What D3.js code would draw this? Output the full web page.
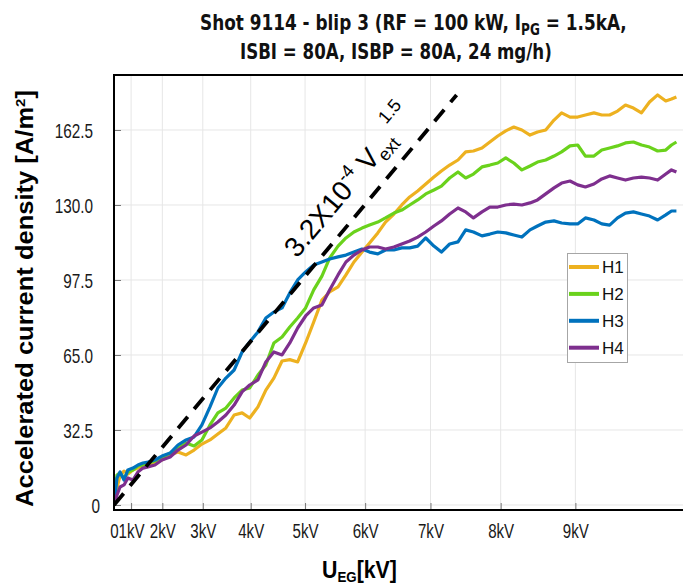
<!DOCTYPE html>
<html><head><meta charset="utf-8">
<script src="https://cdn.jsdelivr.net/npm/d3@7"></script>
<style>body{margin:0;background:#fff} svg{display:block}</style>
</head><body>
<svg id="c" width="683" height="588"></svg>
<script>
// ---- data ----
const voltage = [0,0.31,0.50,0.70,0.87,1.07,1.25,1.42,1.58,1.79,1.99,
 2.21,2.41,2.61,2.80,2.98,3.16,3.33,3.50,3.67,3.83,3.98,
 4.14,4.29,4.44,4.59,4.73,4.87,5.01,5.15,5.29,5.42,
 5.56,5.69,5.82,5.95,6.07,6.20,6.32,6.45,6.57,6.69,
 6.81,6.93,7.05,7.16,7.28,7.40,7.51,7.62,7.74,7.85,
 7.96,8.07,8.18,8.29,8.40,8.50,8.61,8.72,8.82,8.93,
 9.03,9.13,9.24,9.34,9.44,9.54,9.64,9.74,9.84,9.94,
 10.04,10.14,10.21,10.27];
const h1 = [0,7.4,12.6,14.7,13.4,15.2,16.0,16.9,17.3,18.6,19.5,
 21.7,23.0,21.7,23.8,26.4,28.2,30.8,33.4,39.0,39.9,37.7,
 42.5,49.8,55.0,62.4,63.0,62.0,70.2,79.3,88.8,92.3,
 94.5,99.7,105.3,109.6,113.5,117.9,122.6,126.1,130.0,133.5,
 136.1,139.1,142.1,144.7,147.3,149.5,153.0,153.4,154.7,157.3,
 159.9,162.1,163.8,162.5,160.3,161.6,162.5,166.8,169.9,168.1,
 168.1,169.0,169.9,169.0,169.0,170.7,173.3,172.0,169.9,174.6,
 177.7,175.1,175.9,176.8];
const h2 = [0,13.0,13.9,11.7,14.3,15.2,16.9,17.3,18.2,19.1,20.4,
 22.5,24.7,26.9,25.6,28.2,34.7,39.9,42.0,46.4,49.8,50.7,
 56.3,60.7,70.2,72.8,77.1,81.0,85.4,93.2,99.2,107.0,
 112.2,115.7,118.3,120.0,121.3,122.6,124.4,126.5,127.8,130.0,
 132.2,134.8,136.5,138.2,141.7,144.3,141.7,143.4,146.5,147.3,
 148.2,150.4,148.2,145.2,146.9,148.6,149.5,151.2,153.0,155.6,
 156.0,151.2,151.2,153.8,154.7,155.6,156.9,157.3,156.0,155.1,
 153.4,153.8,156.0,157.3];
const h3 = [0,11.7,14.3,10.8,15.2,16.0,17.3,18.2,18.6,19.5,21.2,
 22.5,26.0,28.2,29.5,34.7,42.5,50.7,55.0,58.5,66.3,70.6,
 75.0,81.0,83.6,85.4,91.9,97.5,101.0,104.0,105.3,106.6,
 107.5,108.3,109.6,110.9,109.6,108.8,110.5,110.5,111.4,111.4,
 112.2,115.7,112.2,109.6,113.1,114.0,119.2,118.3,116.6,117.4,
 118.3,117.9,117.0,116.1,119.2,120.9,122.6,123.1,122.2,121.8,
 121.8,124.4,123.5,121.8,121.3,124.4,126.5,127.0,126.1,125.2,
 123.5,125.7,127.4,127.4];
const h4 = [0,4.3,7.8,8.7,11.7,10.8,14.3,16.0,16.5,17.3,19.5,
 20.8,23.8,26.0,29.9,31.6,33.4,36.0,39.0,43.3,49.0,52.0,
 54.2,62.0,66.3,65.0,70.2,76.7,81.9,85.4,86.7,93.2,
 99.7,105.3,108.3,110.5,111.8,111.8,110.9,111.8,113.1,114.4,
 116.1,118.3,120.9,123.1,126.1,128.7,127.0,124.4,127.0,129.1,
 129.1,130.0,130.4,130.0,130.9,132.2,134.8,137.4,139.5,140.4,
 138.7,137.8,139.1,141.3,142.6,141.7,140.8,141.7,142.1,141.7,
 140.8,143.4,145.2,144.3];
const seriesNames = ["H1","H2","H3","H4"];
const seriesColors = ["#EDB120","#6AD21C","#0072BD","#7E2F8E"];
const fitV = [0, 7.38];
const fitJ = [0, 177.7];
const xTickValues = [0,1,2,3,4,5,6,7,8,9];
const xTickLabels = ["0","1kV","2kV","3kV","4kV","5kV","6kV","7kV","8kV","9kV"];
const yTickValues = [0,32.5,65,97.5,130,162.5];
const yTickLabels = ["0","32.5","65.0","97.5","130.0","162.5"];

// ---- layout ----
const L = 114, R = 683, T = 75, B = 510;
const svg = d3.select("#c");
const x = d3.scalePow().exponent(1.5).domain([0, 10.35]).range([L, R]);
const y = d3.scaleLinear().domain([-2.17, 186.33]).range([B, T]);
const SANS = "'Liberation Sans', Arial, sans-serif";

function squeeze(sel, targetW, ax) {
  const w = sel.node().getBBox().width;
  const s = targetW / w;
  sel.attr("transform", `translate(${ax},0) scale(${s},1) translate(${-ax},0)`);
}

// grid
const grid = svg.append("g").attr("stroke","#e6e6e6").attr("stroke-width",1);
grid.selectAll(".gy").data(yTickValues).join("line")
  .attr("x1",L).attr("x2",R).attr("y1",d=>y(d)).attr("y2",d=>y(d));
grid.selectAll(".gx").data(xTickValues.filter(d=>d>0)).join("line")
  .attr("y1",T).attr("y2",B).attr("x1",d=>x(d)).attr("x2",d=>x(d));

// axes
const SX = 0.73;
const gY = svg.append("g").attr("transform",`translate(${L},0)`)
  .call(d3.axisLeft(y).tickValues(yTickValues).tickFormat((d,i)=>yTickLabels[i]).tickSizeInner(-7).tickSizeOuter(0));
gY.select(".domain").remove();
gY.attr("font-size",21).attr("font-family",SANS);
gY.selectAll("line").attr("stroke","#777");
gY.selectAll("text").attr("fill","#1a1a1a").attr("dy","0.36em")
  .attr("x", d => (d===0 ? -14 : -21)/SX).attr("transform",`scale(${SX},1)`);

const gX = svg.append("g").attr("transform",`translate(0,${B})`)
  .call(d3.axisBottom(x).tickValues(xTickValues).tickFormat((d,i)=>xTickLabels[i]).tickSizeInner(-7).tickSizeOuter(0));
gX.select(".domain").remove();
gX.attr("font-size",21).attr("font-family",SANS);
gX.selectAll("line").attr("stroke","#777");
gX.selectAll("text").attr("fill","#1a1a1a").attr("dy",0).attr("y",28.5)
  .attr("x", 0).attr("transform","scale(0.72,1)");

// clip
svg.append("clipPath").attr("id","plotclip").append("rect")
  .attr("x",L).attr("y",T).attr("width",R-L).attr("height",B-T);

// series
const allSeries = [h1,h2,h3,h4];
const line = d3.line().x(d=>x(d[0])).y(d=>y(d[1]));
const gl = svg.append("g").attr("clip-path","url(#plotclip)");
allSeries.forEach((s,i)=>{
  gl.append("path").datum(voltage.map((v,k)=>[v,s[k]]))
    .attr("d",line).attr("fill","none").attr("stroke",seriesColors[i])
    .attr("stroke-width",3.2).attr("stroke-linejoin","round");
});
// fit line
gl.append("path").datum(fitV.map((v,k)=>[v,fitJ[k]]))
  .attr("d",d3.line().x(d=>x(d[0])).y(d=>y(d[1])))
  .attr("fill","none").attr("stroke","#000").attr("stroke-width",3.8)
  .attr("stroke-dasharray","15,10");

// fit label
const fl = svg.append("text").attr("font-family",SANS).attr("font-size",28).attr("fill","#000")
  .attr("transform","translate(297,259) rotate(-50)");
fl.append("tspan").text("3.2X10");
fl.append("tspan").attr("font-size",18).attr("dy",-12).text("-4");
fl.append("tspan").attr("dy",12).text(" V");
fl.append("tspan").attr("font-size",18).attr("dy",6).text("ext");
fl.append("tspan").attr("font-size",18).attr("dy",-24).attr("dx",5).text("1.5");

// frame
const fr = svg.append("g").attr("stroke","#000").attr("stroke-width",2);
fr.append("line").attr("x1",L).attr("x2",L).attr("y1",T).attr("y2",B+1);
fr.append("line").attr("x1",L-1).attr("x2",R).attr("y1",T).attr("y2",T);
fr.append("line").attr("x1",L-1).attr("x2",R).attr("y1",B).attr("y2",B);

// legend
const lg = svg.append("g");
lg.append("rect").attr("x",567.5).attr("y",253.5).attr("width",60).attr("height",109)
  .attr("fill","#fff").attr("stroke","#a6a6a6").attr("stroke-width",1);
seriesNames.forEach((n,i)=>{
  const yy = 267 + i*26.9;
  lg.append("line").attr("x1",569).attr("x2",599).attr("y1",yy).attr("y2",yy)
    .attr("stroke",seriesColors[i]).attr("stroke-width",4);
  lg.append("text").attr("x",602).attr("y",yy+6).attr("font-family",SANS)
    .attr("font-size",17).attr("fill","#111").text(n);
});

// title
const TF = "'DejaVu Sans', sans-serif";
const t1 = svg.append("text").attr("x",200).attr("y",30.5).attr("font-family",TF)
  .attr("font-weight","bold").attr("font-size",21).attr("fill","#111");
t1.append("tspan").text("Shot 9114 - blip 3 (RF = 100 kW, I");
t1.append("tspan").attr("font-size",15).attr("dy",5).text("PG");
t1.append("tspan").attr("dy",-5).text(" = 1.5kA,");
squeeze(t1, 427, 200);
const t2 = svg.append("text").attr("x",240).attr("y",59).attr("font-family",TF)
  .attr("font-weight","bold").attr("font-size",21).attr("fill","#111")
  .text("ISBI = 80A, ISBP = 80A, 24 mg/h)");
squeeze(t2, 312, 240);

// x label
const xl = svg.append("text").attr("x",322).attr("y",578).attr("font-family",SANS)
  .attr("font-weight","bold").attr("font-size",24).attr("fill","#000");
xl.append("tspan").text("U");
xl.append("tspan").attr("font-size",15).attr("dy",4).text("EG");
xl.append("tspan").attr("dy",-4).text("[kV]");
squeeze(xl, 75, 322);

// y label
const yg = svg.append("g").attr("transform","translate(33,298.5) scale(0.9,1) rotate(-90)");
const yl = yg.append("text").attr("text-anchor","middle").attr("font-family",SANS)
  .attr("font-weight","bold").attr("font-size",25).attr("fill","#000");
yl.append("tspan").text("Accelerated current density [A/m");
yl.append("tspan").attr("font-size",15).attr("dy",-9).text("2");
yl.append("tspan").attr("dy",9).text("]");
const yw = yl.node().getBBox().width;
yl.attr("font-size", 25*417/yw);
</script>
</body></html>
